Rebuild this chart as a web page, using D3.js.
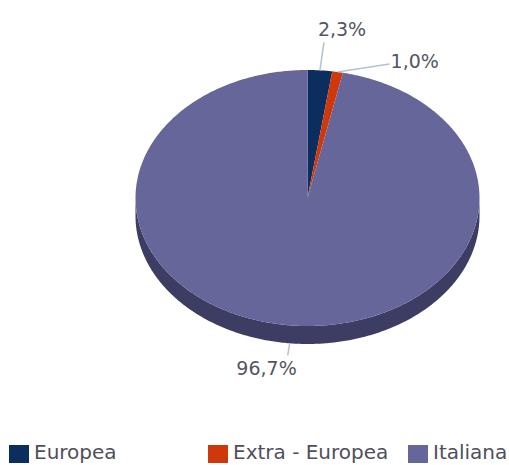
<!DOCTYPE html>
<html><head><meta charset="utf-8">
<script src="https://cdn.jsdelivr.net/npm/d3@7"></script>
<style>body{margin:0;background:#fff}svg{display:block}</style>
</head><body>
<script>
const categories = ["Europea", "Extra - Europea", "Italiana"];
const values = [2.3, 1.0, 96.7];
const valueLabels = ["2,3%", "1,0%", "96,7%"];
const topColors = ["#0b2e5f", "#cf380a", "#66669b"];
const sideColors = ["#071d3d", "#862407", "#3d3d64"];

const W = 509, H = 465;
const cx = 307.5, cy = 198, rx = 172, ry = 128, depth = 18;

const svg = d3.select("body").append("svg").attr("width", W).attr("height", H)
  .style("font-family", "'DejaVu Sans', sans-serif");

const pie = d3.pie().sort(null).value(d => d).startAngle(0).endAngle(2 * Math.PI);
const arcs = pie(values);

// ellipse point: angle clockwise from 12 o'clock
const pt = (a, dy = 0) => [cx + rx * Math.sin(a), cy - ry * Math.cos(a) + dy];

function topPath(d) {
  const p = d3.path();
  p.moveTo(cx, cy);
  const n = Math.max(2, Math.ceil((d.endAngle - d.startAngle) / 0.01));
  for (let i = 0; i <= n; i++) {
    const a = d.startAngle + (d.endAngle - d.startAngle) * i / n;
    const [x, y] = pt(a);
    p.lineTo(x, y);
  }
  p.closePath();
  return p.toString();
}
function sidePath(d) {
  const a0 = Math.max(d.startAngle, Math.PI / 2), a1 = Math.min(d.endAngle, 3 * Math.PI / 2);
  if (a1 <= a0) return null;
  const p = d3.path();
  const n = Math.max(2, Math.ceil((a1 - a0) / 0.01));
  for (let i = 0; i <= n; i++) {
    const [x, y] = pt(a0 + (a1 - a0) * i / n);
    i === 0 ? p.moveTo(x, y) : p.lineTo(x, y);
  }
  for (let i = n; i >= 0; i--) {
    const [x, y] = pt(a0 + (a1 - a0) * i / n, depth);
    p.lineTo(x, y);
  }
  p.closePath();
  return p.toString();
}

const g = svg.append("g");
g.selectAll("path.side").data(arcs).join("path").attr("class", "side")
  .attr("d", d => sidePath(d)).attr("fill", (d, i) => sideColors[i])
  .filter(function () { return !this.getAttribute("d"); }).remove();

g.selectAll("path.top").data(arcs).join("path").attr("class", "top")
  .attr("d", topPath).attr("fill", (d, i) => topColors[i]);

// Labels with leader lines
const labelLayout = [
  { lineEnd: [4, -28], text: [-2, -34], anchor: "start" },
  { lineEnd: [52, -8], text: [53, -4], anchor: "start" },
  { lineEnd: [-2, 12], text: [7, 32], anchor: "end" }
];
arcs.forEach((d, i) => {
  const mid = (d.startAngle + d.endAngle) / 2;
  const front = Math.cos(mid) < 0;
  const [sx, sy] = pt(mid, front ? depth : 0);
  const L = labelLayout[i];
  svg.append("line")
    .attr("x1", sx).attr("y1", sy)
    .attr("x2", sx + L.lineEnd[0]).attr("y2", sy + L.lineEnd[1])
    .attr("stroke", "#b4c2cf").attr("stroke-width", 1.5);
  svg.append("text")
    .attr("x", sx + L.text[0]).attr("y", sy + L.text[1])
    .attr("text-anchor", L.anchor)
    .attr("font-size", 19).attr("fill", "#555562")
    .text(valueLabels[i]);
});

// Legend
const legendX = [9, 208, 408];
const lg = svg.append("g");
categories.forEach((c, i) => {
  lg.append("rect").attr("x", legendX[i]).attr("y", 445).attr("width", 20).attr("height", 18)
    .attr("fill", topColors[i]);
  lg.append("text").attr("x", legendX[i] + 25).attr("y", 459)
    .attr("font-size", 20).attr("fill", "#4f4f5c").text(c);
});
</script>
</body></html>
